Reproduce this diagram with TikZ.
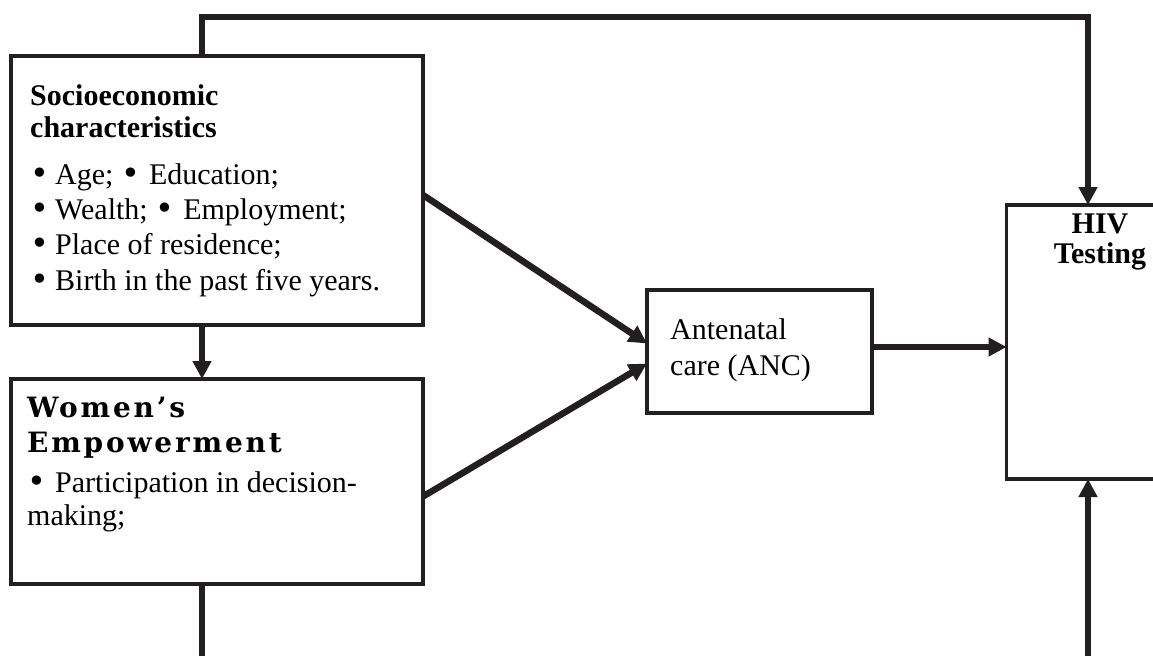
\documentclass[tikz,border=0pt]{standalone}
\usepackage{fontspec}
\setmainfont{Liberation Serif}
\newfontfamily\spaced[LetterSpace=10]{DejaVu Serif}
\newfontfamily\bulfont{DejaVu Sans}
\usetikzlibrary{arrows.meta,positioning}
\newcommand{\bigbul}{{\bulfont\fontsize{32}{0}\selectfont •}}
\newcommand{\itm}{\makebox[25pt][l]{\bigbul}}
\newcommand{\inl}{\makebox[28pt][l]{\bigbul}}
\begin{document}
\begin{tikzpicture}[x=1pt,y=-1pt,
  box/.style={draw=ink,line width=3.5pt,inner sep=0pt,outer sep=0pt},
  link/.style={draw=ink,line width=6.5pt},
  arr/.style={link,-{Triangle[length=18pt,width=18pt]}},
  txt/.style={inner sep=0pt,anchor=base west,align=left,font=\fontsize{30}{35.3}\selectfont}]
\definecolor{ink}{RGB}{35,31,32}
\useasboundingbox (0,0) rectangle (1153,656);
\clip (0,0) rectangle (1153,656);
\node[box,minimum width=412pt,minimum height=269pt] (socio) at (217,190.5) {};
\node[box,minimum width=412pt,minimum height=205pt] (women) at (217,481.5) {};
\node[box,minimum width=225pt,minimum height=123pt] (anc) at (759.5,351.5) {};
\node[box,minimum width=183pt,minimum height=274pt] (hiv) at (1098,342) {};
\node[txt,font=\fontsize{30}{32}\selectfont\bfseries] (sociohead) at (30,137) {Socioeconomic\\characteristics};
\node[txt] (sociolist) at (30,290) {\itm Age; \inl Education;\\\itm Wealth; \inl Employment;\\\itm Place of residence;\\\itm Birth in the past five years.};
\node[txt,font=\fontsize{28}{35}\selectfont\spaced\bfseries] (womenhead) at (27,452) {Women’s\\Empowerment};
\node[txt,font=\fontsize{30}{33}\selectfont] (womenlist) at (27,525) {\inl Participation in decision-\\making;};
\node[txt] (anctext) at (670,375) {Antenatal\\care (ANC)};
\node[txt,anchor=base,align=center,font=\fontsize{30}{30}\selectfont\bfseries] (hivtext) at (1100,263) {HIV\\Testing};
\coordinate (topleft) at (202,17);
\coordinate (topright) at (1088,17);
\coordinate (footleft) at (202,656);
\coordinate (footright) at (1088,656);
\draw[arr] (topleft |- socio.north) -- (topleft) -- (topright) -- (topright |- hiv.north);
\draw[arr] (topleft |- socio.south) -- (topleft |- women.north);
\draw[arr] ([yshift=-4.5pt]socio.east) -- ([yshift=8pt]anc.west);
\draw[arr] ([yshift=-15pt]women.east) -- ([yshift=-12pt]anc.west);
\draw[arr] ([yshift=4.5pt]anc.east) -- ([yshift=4.5pt]anc.east -| hiv.west);
\draw[link] (footleft |- women.south) -- (footleft);
\draw[arr] (footright) -- (footright |- hiv.south);
\end{tikzpicture}
\end{document}
